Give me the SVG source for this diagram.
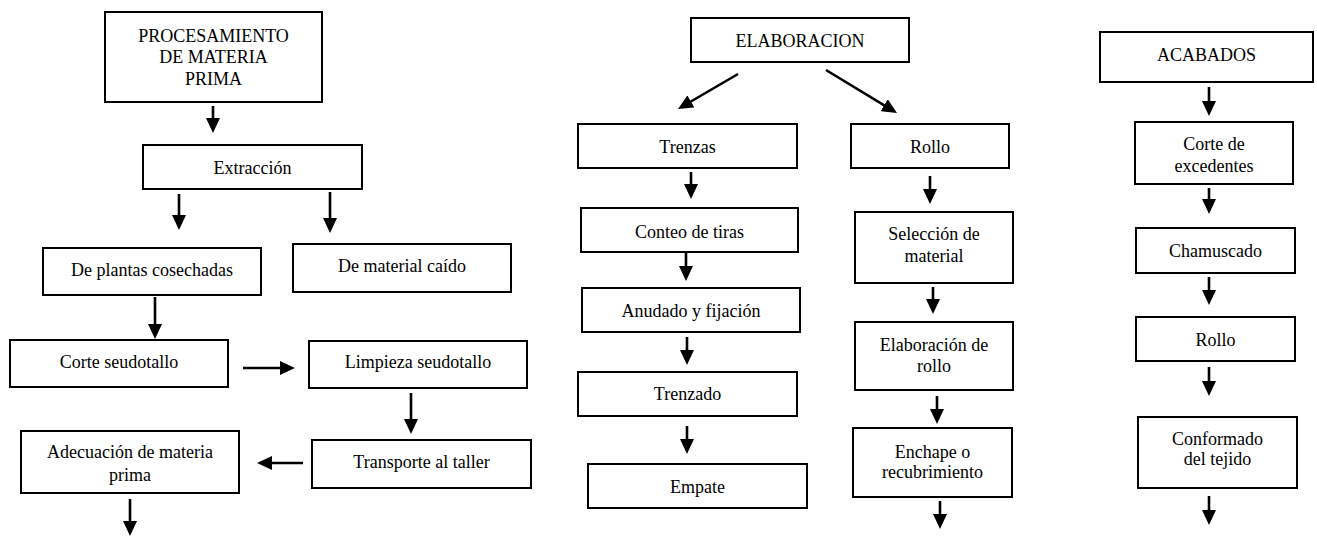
<svg xmlns="http://www.w3.org/2000/svg" width="1317" height="536" viewBox="0 0 1317 536">
<style>
.box{fill:#fff;stroke:#000;stroke-width:2}
.t{font-family:"Liberation Serif","Times New Roman",serif;font-size:18px;fill:#000;text-anchor:middle}
.c{stroke:#000;stroke-width:2.6;fill:none;marker-end:url(#ah)}
</style>
<defs>
<marker id="ah" markerUnits="userSpaceOnUse" markerWidth="15" markerHeight="14" viewBox="0 0 15 14" refX="2" refY="7" orient="auto">
<path d="M0,0 L15,7 L0,14 z" fill="#000"/>
</marker>
</defs>
<rect width="1317" height="536" fill="#fff"/>
<g id="connectors">
<line class="c" x1="213" y1="106" x2="213" y2="120"/>
<line class="c" x1="179" y1="194" x2="179" y2="217"/>
<line class="c" x1="330" y1="192" x2="330" y2="220"/>
<line class="c" x1="155" y1="297" x2="155" y2="326"/>
<line class="c" x1="243" y1="368" x2="282" y2="368"/>
<line class="c" x1="411" y1="393" x2="411" y2="421"/>
<line class="c" x1="303" y1="463" x2="270" y2="463"/>
<line class="c" x1="130" y1="499" x2="130" y2="523"/>
<line class="c" x1="738" y1="74" x2="689.2" y2="102.5"/>
<line class="c" x1="826" y1="70" x2="885.9" y2="106.3"/>
<line class="c" x1="691" y1="172" x2="691" y2="186"/>
<line class="c" x1="930" y1="176" x2="930" y2="191"/>
<line class="c" x1="686" y1="252" x2="686" y2="268"/>
<line class="c" x1="933" y1="287" x2="933" y2="301"/>
<line class="c" x1="687" y1="337" x2="687" y2="352"/>
<line class="c" x1="937" y1="396" x2="937" y2="411"/>
<line class="c" x1="687" y1="426" x2="687" y2="441"/>
<line class="c" x1="940" y1="501" x2="940" y2="516"/>
<line class="c" x1="1209" y1="87" x2="1209" y2="103"/>
<line class="c" x1="1209" y1="188" x2="1209" y2="201"/>
<line class="c" x1="1209" y1="277" x2="1209" y2="292"/>
<line class="c" x1="1209" y1="367" x2="1209" y2="383"/>
<line class="c" x1="1209" y1="496" x2="1209" y2="512"/>
</g>
<g id="n-procesamiento"><rect class="box" x="105" y="12" width="217" height="90"/><text class="t" x="213.5" y="42">PROCESAMIENTO</text><text class="t" x="213.5" y="63">DE MATERIA</text><text class="t" x="213.5" y="85">PRIMA</text></g>
<g id="n-extraccion"><rect class="box" x="143" y="145" width="219" height="44"/><text class="t" x="252.5" y="174">Extracción</text></g>
<g id="n-plantas"><rect class="box" x="43" y="248" width="218" height="47"/><text class="t" x="152" y="276">De plantas cosechadas</text></g>
<g id="n-caido"><rect class="box" x="293" y="244" width="218" height="48"/><text class="t" x="402" y="272">De material caído</text></g>
<g id="n-corte"><rect class="box" x="10" y="340" width="218" height="47"/><text class="t" x="119" y="368">Corte seudotallo</text></g>
<g id="n-limpieza"><rect class="box" x="309" y="341" width="218" height="47"/><text class="t" x="418" y="368">Limpieza seudotallo</text></g>
<g id="n-transporte"><rect class="box" x="312" y="440" width="219" height="48"/><text class="t" x="421.5" y="468">Transporte al taller</text></g>
<g id="n-adecuacion"><rect class="box" x="21" y="431" width="218" height="62"/><text class="t" x="130" y="458">Adecuación de materia</text><text class="t" x="130" y="481">prima</text></g>
<g id="n-elaboracion"><rect class="box" x="691" y="18" width="218" height="44"/><text class="t" x="800" y="47">ELABORACION</text></g>
<g id="n-trenzas"><rect class="box" x="578" y="124" width="219" height="44"/><text class="t" x="687.5" y="153">Trenzas</text></g>
<g id="n-rollo1"><rect class="box" x="851" y="124" width="158" height="44"/><text class="t" x="930" y="153">Rollo</text></g>
<g id="n-conteo"><rect class="box" x="581" y="208" width="217" height="44"/><text class="t" x="689.5" y="238">Conteo de tiras</text></g>
<g id="n-seleccion"><rect class="box" x="855" y="212" width="158" height="71"/><text class="t" x="934" y="240">Selección de</text><text class="t" x="934" y="262">material</text></g>
<g id="n-anudado"><rect class="box" x="582" y="288" width="218" height="44"/><text class="t" x="691" y="317">Anudado y fijación</text></g>
<g id="n-elabrollo"><rect class="box" x="855" y="322" width="158" height="68"/><text class="t" x="934" y="351">Elaboración de</text><text class="t" x="934" y="372">rollo</text></g>
<g id="n-trenzado"><rect class="box" x="578" y="372" width="219" height="44"/><text class="t" x="687.5" y="400">Trenzado</text></g>
<g id="n-enchape"><rect class="box" x="853" y="428" width="159" height="69"/><text class="t" x="932.5" y="458">Enchape o</text><text class="t" x="932.5" y="478">recubrimiento</text></g>
<g id="n-empate"><rect class="box" x="588" y="464" width="219" height="44"/><text class="t" x="697.5" y="493">Empate</text></g>
<g id="n-acabados"><rect class="box" x="1100" y="32" width="213" height="50"/><text class="t" x="1206.5" y="61">ACABADOS</text></g>
<g id="n-excedentes"><rect class="box" x="1135" y="122" width="158" height="62"/><text class="t" x="1214" y="150">Corte de</text><text class="t" x="1214" y="172">excedentes</text></g>
<g id="n-chamuscado"><rect class="box" x="1136" y="228" width="159" height="45"/><text class="t" x="1215.5" y="257">Chamuscado</text></g>
<g id="n-rollo2"><rect class="box" x="1136" y="317" width="159" height="44"/><text class="t" x="1215.5" y="346">Rollo</text></g>
<g id="n-conformado"><rect class="box" x="1138" y="417" width="159" height="71"/><text class="t" x="1217.5" y="445">Conformado</text><text class="t" x="1217.5" y="465">del tejido</text></g>
</svg>
